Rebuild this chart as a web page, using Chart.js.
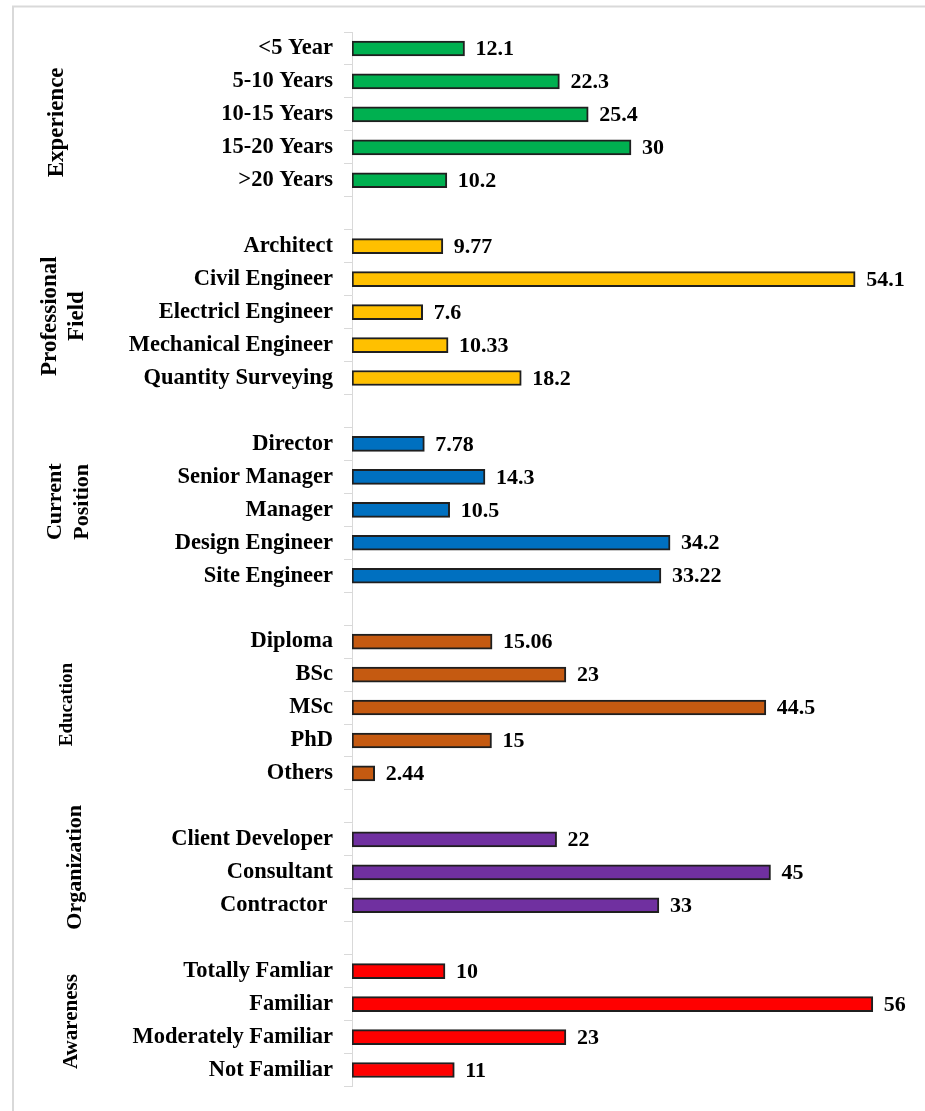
<!DOCTYPE html>
<html lang="en">
<head>
  <meta charset="UTF-8">
  <title>Respondent profile</title>
  <script src="https://cdn.jsdelivr.net/npm/chart.js"></script>
  <style>
    html, body { margin: 0; padding: 0; background: #fff; }
    #wrap { width: 925px; height: 1111px; }
  </style>
</head>
<body>
  <div id="wrap"><canvas id="chart" width="925" height="1111"></canvas></div>
  <script>
    // data per group (values in %)
    const expLabels = ['<5 Year', '5-10 Years', '10-15 Years', '15-20 Years', '>20 Years'];
    const expValues = [12.1, 22.3, 25.4, 30, 10.2];
    const fieldLabels = ['Architect', 'Civil Engineer', 'Electricl Engineer', 'Mechanical Engineer', 'Quantity Surveying'];
    const fieldValues = [9.77, 54.1, 7.6, 10.33, 18.2];
    const positionLabels = ['Director', 'Senior Manager', 'Manager', 'Design Engineer', 'Site Engineer'];
    const positionValues = [7.78, 14.3, 10.5, 34.2, 33.22];
    const educationLabels = ['Diploma', 'BSc', 'MSc', 'PhD', 'Others'];
    const educationValues = [15.06, 23, 44.5, 15, 2.44];
    const orgLabels = ['Client Developer', 'Consultant', 'Contractor '];
    const orgValues = [22, 45, 33];
    const awareLabels = ['Totally Famliar', 'Familiar', 'Moderately Familiar', 'Not Familiar'];
    const awareValues = [10, 56, 23, 11];
    const groupNames = [['Experience'], ['Professional', 'Field'], ['Current', 'Position'], ['Education'], ['Organization'], ['Awareness']];
    const xMax = 60;

    const groups = [
      { labels: expLabels, values: expValues, color: '#00b050' },
      { labels: fieldLabels, values: fieldValues, color: '#ffc000' },
      { labels: positionLabels, values: positionValues, color: '#0070c0' },
      { labels: educationLabels, values: educationValues, color: '#c55a11' },
      { labels: orgLabels, values: orgValues, color: '#7030a0' },
      { labels: awareLabels, values: awareValues, color: '#ff0000' }
    ];

    // flatten with one empty row between groups
    const labels = [], values = [], colors = [], spans = [];
    groups.forEach((g, gi) => {
      if (gi > 0) { labels.push(''); values.push(null); colors.push('#fff'); }
      const start = labels.length;
      g.labels.forEach((l, i) => { labels.push(l); values.push(g.values[i]); colors.push(g.color); });
      spans.push([start, labels.length - 1]);
    });

    const serif = '"Liberation Serif", "Times New Roman", serif';

    // group label look: x of each line, nudge in y, font
    const groupStyle = [
      { xs: [57], dy: 8, font: 'bold 23px ' + serif },
      { xs: [50, 77], dy: 4, font: 'bold 23px ' + serif },
      { xs: [55, 82], dy: -8, font: 'bold 22px ' + serif },
      { xs: [67], dy: -3, font: 'bold 19px ' + serif },
      { xs: [75], dy: -5, font: 'bold 22px ' + serif },
      { xs: [72], dy: 1, font: 'bold 21px ' + serif }
    ];

    const extras = {
      id: 'extras',
      beforeDraw(chart) {
        const c = chart.ctx;
        c.save();
        c.strokeStyle = '#d9d9d9';
        c.lineWidth = 2;
        c.beginPath();
        c.moveTo(13, 1111); c.lineTo(13, 6.5); c.lineTo(925, 6.5);
        c.stroke();
        c.restore();
      },
      afterDatasetsDraw(chart) {
        const c = chart.ctx;
        const meta = chart.getDatasetMeta(0);
        const ys = chart.scales.y;
        c.save();
        c.fillStyle = '#000';
        c.font = 'bold 22px ' + serif;
        c.textAlign = 'left';
        c.textBaseline = 'middle';
        meta.data.forEach((bar, i) => {
          if (values[i] == null) return;
          c.fillText(String(values[i]), bar.x + 11, bar.y + 1);
        });
        // rotated group names
        c.textAlign = 'center';
        spans.forEach((sp, gi) => {
          const st = groupStyle[gi];
          const cy = (ys.getPixelForValue(sp[0]) + ys.getPixelForValue(sp[1])) / 2 + st.dy;
          c.font = st.font;
          groupNames[gi].forEach((txt, li) => {
            c.save();
            c.translate(st.xs[li], cy);
            c.rotate(-Math.PI / 2);
            c.fillText(txt, 0, 0);
            c.restore();
          });
        });
        c.restore();
      }
    };

    new Chart(document.getElementById('chart'), {
      type: 'bar',
      data: {
        labels,
        datasets: [{
          data: values,
          backgroundColor: colors,
          borderColor: '#1f1f1f',
          borderWidth: 2,
          borderSkipped: false,
          barThickness: 15
        }]
      },
      options: {
        indexAxis: 'y',
        responsive: false,
        animation: false,
        layout: { padding: { top: 32, bottom: 14, right: 15, left: 0 } },
        plugins: { legend: { display: false }, tooltip: { enabled: false } },
        scales: {
          x: { display: false, min: 0, max: xMax },
          y: {
            afterFit(s) { s.width = 352; },
            border: { color: '#d9d9d9', width: 1 },
            grid: { drawOnChartArea: false, color: '#d9d9d9', tickLength: 8, offset: true },
            ticks: {
              color: '#000', autoSkip: false, padding: 11,
              font: { family: serif, size: 22.5, weight: 'bold' }
            }
          }
        }
      },
      plugins: [extras]
    });
  </script>
</body>
</html>
